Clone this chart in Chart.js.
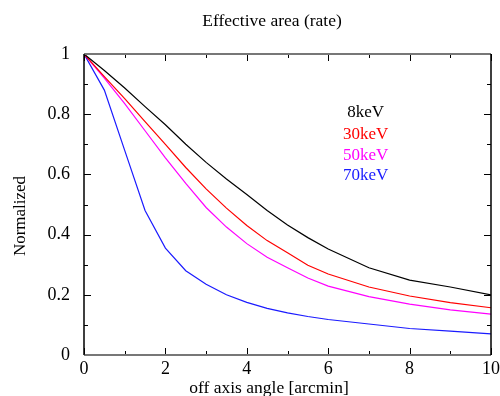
<!DOCTYPE html>
<html>
<head>
<meta charset="utf-8">
<script src="https://cdn.jsdelivr.net/npm/chart.js@4.4.0/dist/chart.umd.min.js"></script>
<style>
html,body{margin:0;padding:0;background:#fff;}
#wrap{width:500px;height:396px;position:relative;}
</style>
</head>
<body>
<div id="wrap"><canvas id="c" width="500" height="396"></canvas></div>
<script>
// ---- data ----
const angles = [0, 0.5, 1, 1.5, 2, 2.5, 3, 3.5, 4, 4.5, 5, 5.5, 6, 7, 8, 9, 10];
const kev8  = [1, 0.945, 0.887, 0.825, 0.765, 0.70, 0.64, 0.585, 0.533, 0.48, 0.432, 0.39, 0.352, 0.29, 0.249, 0.226, 0.2];
const kev30 = [1, 0.925, 0.852, 0.775, 0.70, 0.623, 0.552, 0.488, 0.43, 0.38, 0.34, 0.298, 0.269, 0.226, 0.196, 0.174, 0.157];
const kev50 = [1, 0.92, 0.835, 0.745, 0.655, 0.57, 0.49, 0.425, 0.37, 0.325, 0.29, 0.256, 0.229, 0.194, 0.169, 0.15, 0.136];
const kev70 = [1, 0.88, 0.68, 0.48, 0.355, 0.28, 0.235, 0.2, 0.175, 0.155, 0.14, 0.128, 0.118, 0.103, 0.088, 0.079, 0.07];
const seriesNames = ['8keV', '30keV', '50keV', '70keV'];
const seriesColors = ['#000000', '#ff0000', '#ff00ff', '#1a1aff'];
const xTickLabels = ['0', '2', '4', '6', '8', '10'];
const yTickLabels = ['0', '0.2', '0.4', '0.6', '0.8', '1'];
const titleText = 'Effective area (rate)';
const xTitle = 'off axis angle [arcmin]';
const yTitle = 'Normalized';

const seriesValues = [kev8, kev30, kev50, kev70];
const FONT = '"Liberation Serif", "DejaVu Serif", serif';

const datasets = seriesValues.map((vals, i) => ({
  label: seriesNames[i],
  data: angles.map((a, j) => ({x: a, y: vals[j]})),
  borderColor: seriesColors[i],
  borderWidth: 1.2,
  pointRadius: 0,
  tension: 0,
  fill: false
}));

const decor = {
  id: 'decor',
  afterDraw(chart) {
    const ctx = chart.ctx;
    const xs = chart.scales.x, ys = chart.scales.y;
    const a = chart.chartArea;
    ctx.save();
    // ticks (inward, all sides)
    ctx.strokeStyle = '#000';
    ctx.lineWidth = 1;
    for (let v = 0; v <= 10; v += 1) {
      const px = Math.round(xs.getPixelForValue(v)) + 0.5;
      const len = (v % 2 === 0) ? 7 : 4;
      ctx.beginPath();
      ctx.moveTo(px, a.bottom); ctx.lineTo(px, a.bottom - len);
      ctx.moveTo(px, a.top); ctx.lineTo(px, a.top + len);
      ctx.stroke();
    }
    for (let k = 0; k <= 10; k += 1) {
      const py = Math.round(ys.getPixelForValue(k / 10)) + 0.5;
      const len = (k % 2 === 0) ? 7 : 4;
      ctx.beginPath();
      ctx.moveTo(a.left, py); ctx.lineTo(a.left + len, py);
      ctx.moveTo(a.right, py); ctx.lineTo(a.right - len, py);
      ctx.stroke();
    }
    // frame
    ctx.lineWidth = 2;
    ctx.strokeStyle = '#777';
    ctx.beginPath();
    ctx.moveTo(a.left, a.top); ctx.lineTo(a.right, a.top);
    ctx.moveTo(a.left, a.bottom); ctx.lineTo(a.right, a.bottom);
    ctx.stroke();
    ctx.strokeStyle = '#000';
    ctx.lineWidth = 1.5;
    ctx.beginPath();
    ctx.moveTo(a.left, a.top); ctx.lineTo(a.left, a.bottom);
    ctx.moveTo(a.right, a.top); ctx.lineTo(a.right, a.bottom);
    ctx.stroke();
    // titles
    ctx.fillStyle = '#000';
    ctx.textAlign = 'center';
    ctx.textBaseline = 'alphabetic';
    ctx.font = '17.5px ' + FONT;
    ctx.fillText(titleText, 272, 26);
    ctx.font = '17.5px ' + FONT;
    ctx.fillText(xTitle, 269, 393);
    ctx.save();
    ctx.translate(25, 216);
    ctx.rotate(-Math.PI / 2);
    ctx.font = '17px ' + FONT;
    ctx.fillText(yTitle, 0, 0);
    ctx.restore();
    // legend text
    ctx.font = '17px ' + FONT;
    ctx.textBaseline = 'middle';
    const lx = xs.getPixelForValue(6.92);
    const ly = [0.804, 0.731, 0.664, 0.595];
    seriesNames.forEach((n, i) => {
      ctx.fillStyle = seriesColors[i];
      ctx.fillText(n, lx, ys.getPixelForValue(ly[i]));
    });
    ctx.restore();
  }
};

new Chart(document.getElementById('c'), {
  type: 'line',
  data: { datasets },
  options: {
    responsive: false,
    animation: false,
    events: [],
    layout: { padding: { top: 54, right: 9, left: 0, bottom: 0 } },
    plugins: { legend: { display: false }, title: { display: false }, tooltip: { enabled: false } },
    scales: {
      x: {
        type: 'linear', min: 0, max: 10,
        grid: { display: false, drawTicks: false },
        border: { display: false },
        afterFit(s) { s.height = 41; s.paddingRight = 0; s.paddingLeft = 0; },
        afterBuildTicks(s) { s.ticks = xTickLabels.map(t => ({ value: Number(t) })); },
        ticks: {
          color: '#000', padding: 3,
          font: { family: FONT, size: 18 },
          callback: (v, i) => xTickLabels[i],
          maxRotation: 0, autoSkip: false
        }
      },
      y: {
        type: 'linear', min: 0, max: 1,
        grid: { display: false, drawTicks: false },
        border: { display: false },
        afterFit(s) { s.width = 84; s.paddingTop = 0; s.paddingBottom = 0; },
        afterBuildTicks(s) { s.ticks = yTickLabels.map(t => ({ value: Number(t) })); },
        ticks: {
          color: '#000', padding: 14,
          font: { family: FONT, size: 18 },
          callback: (v, i) => yTickLabels[i],
          autoSkip: false
        }
      }
    }
  },
  plugins: [decor]
});
</script>
</body>
</html>
